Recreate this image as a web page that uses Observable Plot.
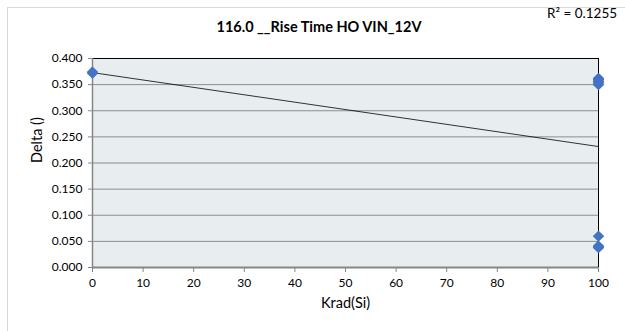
<!DOCTYPE html>
<html><head><meta charset="utf-8">
<script src="https://cdn.jsdelivr.net/npm/d3@7"></script>
<script src="https://cdn.jsdelivr.net/npm/@observablehq/plot@0.6"></script>
<style>
body{margin:0;background:#fff;overflow:hidden;}
#wrap{position:relative;width:625px;height:331px;overflow:hidden;font-family:Lato,"Open Sans",sans-serif;color:#000;}
#border{position:absolute;left:7px;top:7px;width:700px;height:400px;border:1px solid #d9d9d9;}
#title{position:absolute;left:0;width:638px;top:18px;text-align:center;font-weight:bold;font-size:14.5px;}
#r2{position:absolute;left:547px;top:5px;font-size:13.5px;white-space:nowrap;}
#chart{position:absolute;left:0;top:0;}
</style></head>
<body>
<div id="wrap">
  <div id="border"></div>
  <div id="chart"></div>
  <div id="title"></div>
  <div id="r2"></div>
</div>
<script>
const titleText = "116.0 __Rise Time HO VIN_12V";
const r2Text = "R² = 0.1255";
const xLabel = "Krad(Si)";
const yLabel = "Delta ()";
const doseKrad = [0, 0, 100, 100, 100, 100, 100, 100, 100, 100, 100, 100];
const deltaVal = [0.374, 0.372, 0.362, 0.360, 0.357, 0.355, 0.353, 0.350, 0.060, 0.041, 0.039, 0.038];
const xTicks = [0, 10, 20, 30, 40, 50, 60, 70, 80, 90, 100];
const yTicks = [0, 0.05, 0.1, 0.15, 0.2, 0.25, 0.3, 0.35, 0.4];

const data = doseKrad.map((x, i) => ({x, y: deltaVal[i]}));

document.getElementById("title").textContent = titleText;
document.getElementById("r2").textContent = r2Text;

const chart = Plot.plot({
  width: 625, height: 331,
  marginLeft: 92, marginRight: 27, marginTop: 58, marginBottom: 64,
  style: {background: "transparent", fontFamily: 'Lato,"Open Sans",sans-serif', fontSize: "12px", color: "#404040"},
  x: {domain: [0, 100]},
  y: {domain: [0, 0.4]},
  marks: [
    Plot.frame({fill: "#e8eef0", stroke: null}),
    Plot.gridY(yTicks, {stroke: "#8c8c8c", strokeOpacity: 1}),
    Plot.frame({stroke: "#000"}),
    Plot.ruleX([0], {stroke: "#868686", strokeWidth: 1.5}),
    Plot.ruleY([0], {stroke: "#868686", strokeWidth: 2}),
    Plot.axisX({ticks: xTicks, tickSize: 5, tickPadding: 6, label: null, stroke: "#868686", fill: "#000"}),
    Plot.axisY({ticks: yTicks, tickSize: 4, tickPadding: 6, tickFormat: d3.format(".3f"), label: null, stroke: "#868686", fill: "#000"}),
    Plot.linearRegressionY(data, {x: "x", y: "y", ci: 0, stroke: "#000", strokeWidth: 0.8}),
    Plot.dot(data, {x: "x", y: "y", symbol: "diamond2", r: 4.2, fill: "#4472c4", stroke: "#4472c4"}),
    Plot.text([yLabel], {frameAnchor: "left", dx: -55, rotate: -90, fontSize: 14.5, fill: "#000"}),
    Plot.text([xLabel], {frameAnchor: "bottom", dy: 40, fontSize: 14.5, fill: "#000"})
  ]
});
document.getElementById("chart").appendChild(chart);
</script>
</body></html>
